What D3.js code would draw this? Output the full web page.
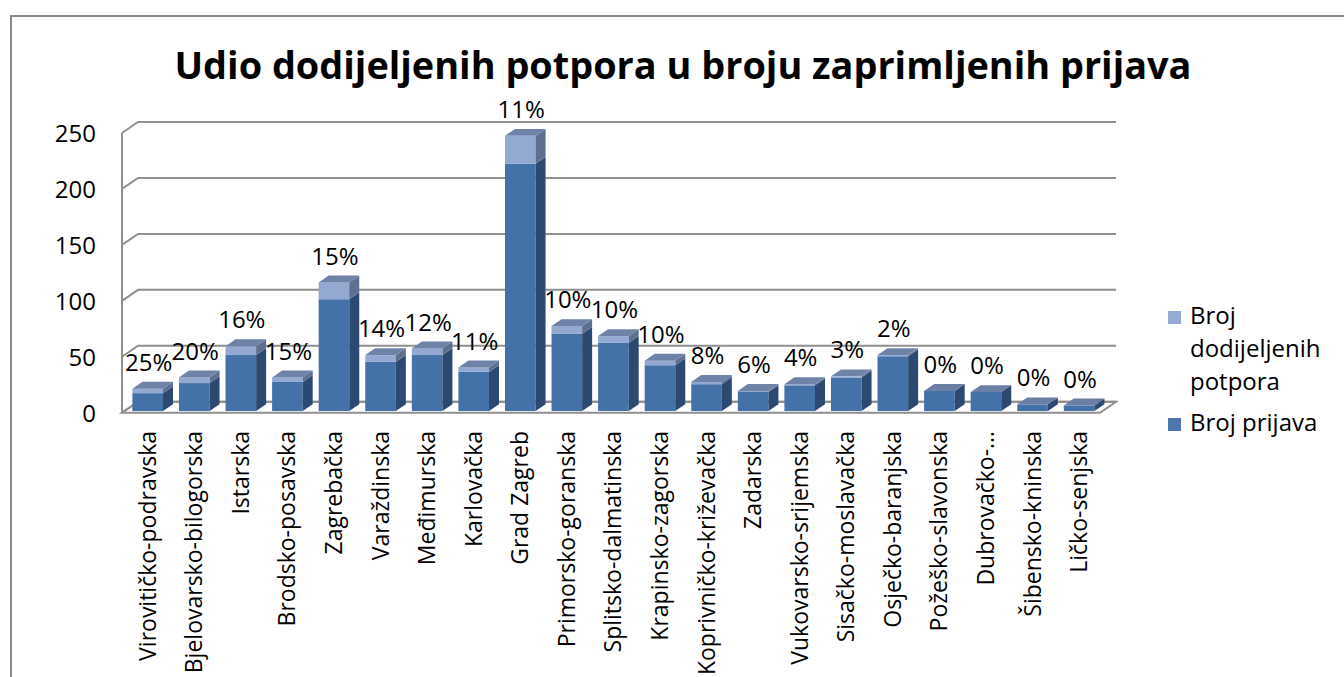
<!DOCTYPE html>
<html>
<head>
<meta charset="utf-8">
<script src="https://cdn.jsdelivr.net/npm/d3@7"></script>
<style>
  body { margin: 0; background: #fff; }
  svg text { font-family: "Open Sans", sans-serif; fill: #000; }
</style>
</head>
<body>
<svg id="chart" width="1344" height="677"></svg>
<script>
// region names as shown on the x axis
const regions = ["Virovitičko-podravska", "Bjelovarsko-bilogorska", "Istarska", "Brodsko-posavska",
  "Zagrebačka", "Varaždinska", "Međimurska", "Karlovačka", "Grad Zagreb", "Primorsko-goranska",
  "Splitsko-dalmatinska", "Krapinsko-zagorska", "Koprivničko-križevačka", "Zadarska",
  "Vukovarsko-srijemska", "Sisačko-moslavačka", "Osječko-baranjska", "Požeško-slavonska",
  "Dubrovačko-…", "Šibensko-kninska", "Ličko-senjska"];

const brojPrijava = [16, 25, 50, 26, 100, 44, 50, 35, 221, 69, 61, 41, 24, 17, 23, 30, 49, 18, 17, 6, 5];
const brojPotpora = [4, 5, 8, 4, 15, 6, 6, 4, 25, 7, 6, 4, 2, 1, 1, 1, 1, 0, 0, 0, 0];
const udio = ["25%", "20%", "16%", "15%", "15%", "14%", "12%", "11%", "11%", "10%", "10%", "10%",
  "8%", "6%", "4%", "3%", "2%", "0%", "0%", "0%", "0%"];
const yTicks = [0, 50, 100, 150, 200, 250];
const legendItems = [
  { lines: ["Broj", "dodijeljenih", "potpora"], color: "#95abd3" },
  { lines: ["Broj prijava"], color: "#4a76ad" }
];

const svg = d3.select("#chart");

// 3d depth offset of the back wall
const depthX = 16, depthY = -11;
const zFront = 0.15, zBack = 0.775;

const xScale = d3.scaleBand()
  .domain(regions)
  .range([122, 1100])
  .paddingInner(0.343)
  .paddingOuter(0.1715);

const yScale = d3.scaleLinear()
  .domain([0, 250])
  .range([412.7, 133]);

// project a point (x on front plane, value, depth 0..1)
const P = (x, v, z) => [x + z * depthX, yScale(v) + z * depthY];
const poly = pts => pts.map(p => p.join(",")).join(" ");

// outer frame
svg.append("path")
  .attr("d", "M11,677 L11,16 L1344,16")
  .attr("fill", "none")
  .attr("stroke", "#8a8a8a")
  .attr("stroke-width", 2);

// title
svg.append("text")
  .attr("x", 683)
  .attr("y", 79)
  .attr("text-anchor", "middle")
  .attr("font-size", 38)
  .attr("font-weight", "bold")
  .attr("textLength", 1017)
  .attr("lengthAdjust", "spacingAndGlyphs")
  .text("Udio dodijeljenih potpora u broju zaprimljenih prijava");

const x0 = xScale.range()[0], x1 = xScale.range()[1];
const grid = svg.append("g").attr("fill", "none").attr("stroke", "#8f8f8f").attr("stroke-width", 2);

// floor
grid.append("polygon")
  .attr("points", poly([P(x0, 0, 0), P(x1, 0, 0), P(x1, 0, 1), P(x0, 0, 1)]))
  .attr("fill", "#fff");

// left wall edge
grid.append("line")
  .attr("x1", P(x0, 0, 0)[0]).attr("y1", P(x0, 0, 0)[1])
  .attr("x2", P(x0, 250, 0)[0]).attr("y2", P(x0, 250, 0)[1]);

yTicks.forEach(t => {
  const a = P(x0, t, 0), b = P(x0, t, 1), c = P(x1, t, 1);
  grid.append("polyline").attr("points", poly([a, b, c]));
});

// y axis labels
svg.append("g")
  .selectAll("text")
  .data(yTicks)
  .join("text")
  .attr("x", 96)
  .attr("y", d => yScale(d) + 1)
  .attr("dy", "0.35em")
  .attr("text-anchor", "end")
  .attr("font-size", 24)
  .text(d => d);

// bars
const colors = {
  prijava: { front: "#4471a7", side: "#2c4a71", top: "#6b7fa5" },
  potpora: { front: "#93a9d1", side: "#5e6f8f", top: "#6f83a8" }
};

const bars = svg.append("g");
regions.forEach((r, i) => {
  const x = xScale(r), w = xScale.bandwidth();
  const segs = [
    { v0: 0, v1: brojPrijava[i], c: colors.prijava },
    { v0: brojPrijava[i], v1: brojPrijava[i] + brojPotpora[i], c: colors.potpora }
  ].filter(s => s.v1 > s.v0);
  segs.forEach((s, k) => {
    bars.append("polygon")
      .attr("points", poly([P(x, s.v0, zFront), P(x + w, s.v0, zFront), P(x + w, s.v1, zFront), P(x, s.v1, zFront)]))
      .attr("fill", s.c.front);
    bars.append("polygon")
      .attr("points", poly([P(x + w, s.v0, zFront), P(x + w, s.v0, zBack), P(x + w, s.v1, zBack), P(x + w, s.v1, zFront)]))
      .attr("fill", s.c.side);
    if (k === segs.length - 1) {
      bars.append("polygon")
        .attr("points", poly([P(x, s.v1, zFront), P(x + w, s.v1, zFront), P(x + w, s.v1, zBack), P(x, s.v1, zBack)]))
        .attr("fill", s.c.top);
    }
  });
});

// percentage labels
svg.append("g")
  .selectAll("text")
  .data(regions)
  .join("text")
  .attr("x", d => xScale(d) + xScale.bandwidth() / 2 + zFront * depthX + 1)
  .attr("y", (d, i) => P(0, brojPrijava[i] + brojPotpora[i], zBack)[1] - 11)
  .attr("text-anchor", "middle")
  .attr("font-size", 24)
  .text((d, i) => udio[i]);

// category labels, rotated
svg.append("g")
  .selectAll("text")
  .data(regions)
  .join("text")
  .attr("transform", d => `translate(${xScale(d) + xScale.bandwidth() / 2 + zFront * depthX},431) rotate(-90)`)
  .attr("dy", "0.35em")
  .attr("text-anchor", "end")
  .attr("font-size", 23)
  .text(d => d);

// legend
const legend = svg.append("g").attr("transform", "translate(1168,0)");
let ly = 324;
legendItems.forEach(item => {
  legend.append("rect")
    .attr("x", 0)
    .attr("y", ly - 13)
    .attr("width", 13)
    .attr("height", 13)
    .attr("fill", item.color);
  item.lines.forEach(line => {
    legend.append("text")
      .attr("x", 22)
      .attr("y", ly)
      .attr("font-size", 24)
      .text(line);
    ly += 33;
  });
  ly += 8;
});
</script>
</body>
</html>
